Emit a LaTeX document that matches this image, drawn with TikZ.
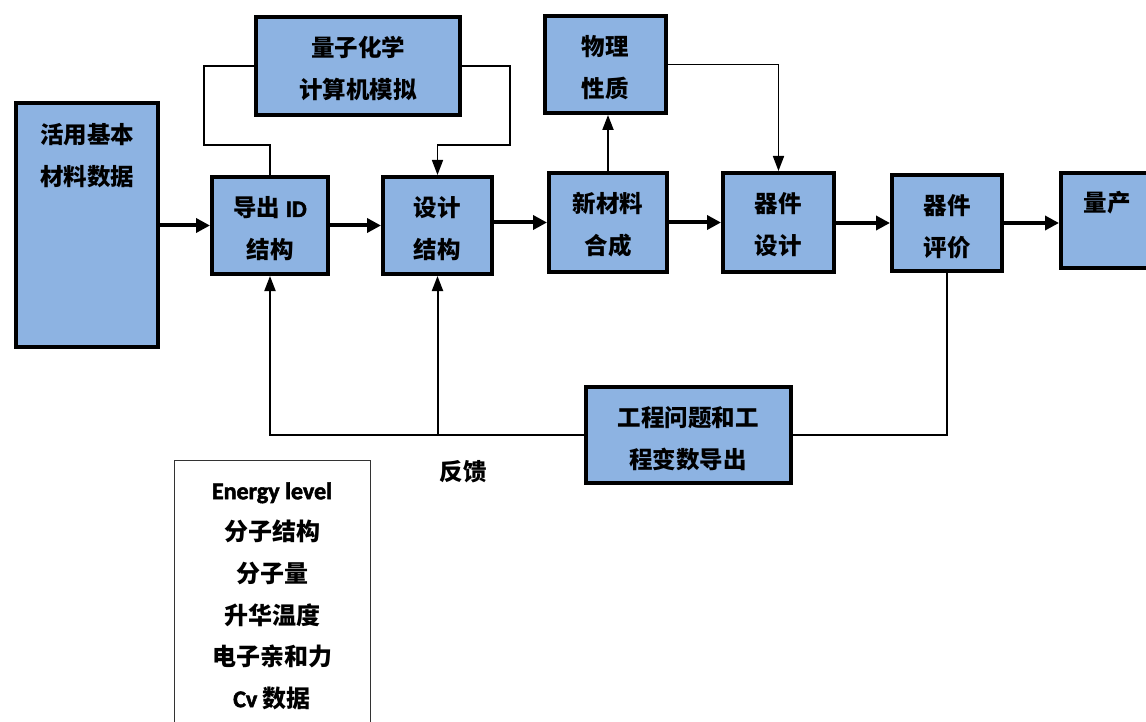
\documentclass[tikz,border=0pt]{standalone}
\usepackage{fontspec}
\setmainfont{Carlito}
\newfontfamily\cjk{Noto Sans CJK SC}
\newfontfamily\latb{Carlito}[FakeBold=2.2]
\usetikzlibrary{arrows.meta}
\definecolor{boxblue}{RGB}{141,179,226}
\tikzset{
  box/.style={draw=black, fill=boxblue, line width=4pt, inner sep=0pt, outer sep=2pt, rectangle},
  txt/.style={align=center, font=\fontsize{23.5}{42}\selectfont\bfseries\cjk, inner sep=0pt},
  thick arrow/.style={line width=4pt, -{Triangle[length=14pt,width=14pt]}},
  thin arrow/.style={line width=1.6pt, -{Triangle[length=15pt,width=11pt]}},
  thin line/.style={line width=1.6pt},
}
\begin{document}
\begin{tikzpicture}[x=1pt,y=-1pt]
\useasboundingbox (0,0) rectangle (1146,722);
% boxes
\node[box, minimum width=142pt, minimum height=244pt] (data) at (87,225) {};
\node[box, minimum width=116pt, minimum height=97pt] (exp) at (270,225.5) {};
\node[box, minimum width=204pt, minimum height=98pt] (qc) at (358,66) {};
\node[box, minimum width=109pt, minimum height=97pt] (des) at (437.5,225.5) {};
\node[box, minimum width=121pt, minimum height=97pt] (phys) at (605.5,64.5) {};
\node[box, minimum width=118pt, minimum height=99pt] (syn) at (608,222.5) {};
\node[box, minimum width=111pt, minimum height=99pt] (dev) at (778.5,222.5) {};
\node[box, minimum width=110pt, minimum height=96pt] (eval) at (947,223) {};
\node[box, minimum width=93pt, minimum height=95pt] (mass) at (1107.5,220.5) {};
\node[box, minimum width=205pt, minimum height=96pt] (eng) at (688.5,435) {};
\node[draw=black!80, line width=1pt, minimum width=196pt, minimum height=290pt, inner sep=0pt] (legend) at (272,605) {};
% texts
\node[txt] (tdata) at (87,156) {活用基本\\材料数据};
\node[txt] (texp) at (270,229) {导出 {\latb ID}\\结构};
\node[txt] (tqc) at (358,69) {量子化学\\计算机模拟};
\node[txt] (tdes) at (437,229) {设计\\结构};
\node[txt] (tphys) at (605,67.5) {物理\\性质};
\node[txt] (tsyn) at (608,224.5) {新材料\\合成};
\node[txt] (tdev) at (778,224.5) {器件\\设计};
\node[txt] (teval) at (947,227) {器件\\评价};
\node[txt] (tmass) at (1107,203) {量产};
\node[txt] (teng) at (688,439) {工程问题和工\\程变数导出};
\node[txt] (tfb) at (463,472) {反馈};
\node[txt, font=\fontsize{24}{41.6}\selectfont\bfseries\cjk] (tleg) at (272,596) {{\latb Energy level}\\分子结构\\分子量\\升华温度\\电子亲和力\\{\latb Cv} 数据};
% main flow
\draw[thick arrow] (data.east |- exp.west) -- (exp.west);
\draw[thick arrow] (exp.east) -- (des.west);
\draw[thick arrow] (des.east |- syn.west) -- (syn.west);
\draw[thick arrow] (syn.east) -- (dev.west);
\draw[thick arrow] (dev.east |- eval.west) -- (eval.west);
\draw[thick arrow] (eval.east) -- (mass.west |- eval.east);
% quantum chemistry loop
\coordinate (k1) at (204,145);
\coordinate (k2) at (510,145);
\draw[thin line] (exp.north) |- (k1) |- (qc.west);
\draw[thin arrow] (qc.east) -| (k2) -| (des.north);
% physical properties
\draw[thin arrow, line width=2pt] (syn.north) -- (syn.north |- phys.south);
\draw[thin arrow] (phys.east) -| (dev.north);
% feedback
\draw[thin line] (eval.south) |- (eng.east);
\draw[thin arrow, line width=2pt] (eng.west) -| (exp.south);
\draw[thin arrow, line width=2pt] (des.south |- eng.west) -- (des.south);
\end{tikzpicture}
\end{document}
